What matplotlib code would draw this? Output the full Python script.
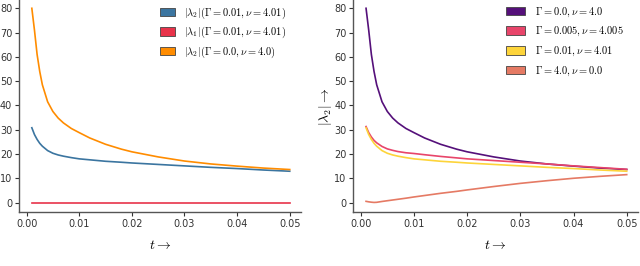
import matplotlib
matplotlib.use('Agg')
import matplotlib.pyplot as plt
from matplotlib.patches import Patch

plt.rcParams['mathtext.fontset'] = 'cm'
plt.rcParams['font.family'] = ['DejaVu Sans']

# time grid shared by every curve
t = [0.001, 0.0015, 0.002, 0.0025, 0.003, 0.004, 0.005, 0.006, 0.007, 0.0085,
     0.01, 0.012, 0.015, 0.018, 0.02, 0.025, 0.03, 0.035, 0.04, 0.045, 0.05]

# Gamma = 0.0, nu = 4.0
lam2_g0 = [80, 71, 61, 54, 48.5, 41.5, 37.5, 34.8, 32.8, 30.5,
           28.8, 26.6, 24.0, 22.0, 20.9, 18.8, 17.1, 15.9, 15.0, 14.2, 13.6]
# Gamma = 0.01, nu = 4.01
lam2_g001 = [30.8, 28.0, 26.0, 24.4, 23.2, 21.4, 20.3, 19.6, 19.1, 18.5,
             18.0, 17.6, 17.0, 16.6, 16.3, 15.7, 15.1, 14.5, 14.0, 13.4, 12.9]
lam1_g001 = [0.0] * len(t)
# Gamma = 0.005, nu = 4.005
lam2_g0005 = [31.3, 28.8, 27.0, 25.6, 24.6, 23.1, 22.1, 21.5, 21.0, 20.5,
              20.2, 19.7, 19.0, 18.4, 18.0, 17.3, 16.6, 15.9, 15.1, 14.4, 13.7]
# Gamma = 4.0, nu = 0.0
lam2_g4 = [0.5, 0.3, 0.15, 0.05, 0.1, 0.45, 0.75, 1.05, 1.35, 1.8,
           2.3, 2.9, 3.8, 4.6, 5.2, 6.6, 7.9, 9.0, 10.0, 10.8, 11.5]

left_labels = [r'$|\lambda_2|(\Gamma = 0.01, \nu = 4.01)$',
               r'$|\lambda_1|(\Gamma = 0.01, \nu = 4.01)$',
               r'$|\lambda_2|(\Gamma = 0.0, \nu = 4.0)$']
left_colors = ['#3b75a0', '#e8334a', '#ff8c00']

right_labels = [r'$\Gamma = 0.0, \nu = 4.0$',
                r'$\Gamma = 0.005, \nu = 4.005$',
                r'$\Gamma = 0.01, \nu = 4.01$',
                r'$\Gamma = 4.0, \nu = 0.0$']
right_colors = ['#55107a', '#e8456a', '#fdd43a', '#e57a64']

fig = plt.figure(figsize=(6.4, 2.66), dpi=100)
ax1 = fig.add_axes([0.03, 0.202, 0.44, 0.797])
ax2 = fig.add_axes([0.552, 0.202, 0.4447, 0.797])

for series, c in zip([lam2_g001, lam1_g001, lam2_g0], left_colors):
    ax1.plot(t, series, color=c, lw=1.2)
for series, c in zip([lam2_g0, lam2_g0005, lam2_g001, lam2_g4], right_colors):
    ax2.plot(t, series, color=c, lw=1.2)

for ax in (ax1, ax2):
    ax.set_xlim(-0.0014, 0.0521)
    ax.set_ylim(-4.0, 83.3)
    ax.set_xticks([0.0, 0.01, 0.02, 0.03, 0.04, 0.05])
    ax.set_xticklabels(['0.00', '0.01', '0.02', '0.03', '0.04', '0.05'])
    ax.set_yticks([0, 10, 20, 30, 40, 50, 60, 70, 80])
    ax.tick_params(labelsize=7, length=3, width=0.8, colors='#333333', pad=2)
    for s in ('top', 'right'):
        ax.spines[s].set_visible(False)
    for s in ('left', 'bottom'):
        ax.spines[s].set_color('#555555')
        ax.spines[s].set_linewidth(1.0)
    ax.set_xlabel(r'$t \rightarrow$', fontsize=10, labelpad=6)

ax2.set_ylabel(r'$|\lambda_2| \rightarrow$', fontsize=10, labelpad=0)

h1 = [Patch(facecolor=c, edgecolor='#444444', lw=0.6) for c in left_colors]
ax1.legend(h1, left_labels, loc='upper left', bbox_to_anchor=(0.48, 1.0),
           frameon=False, fontsize=7.5, handlelength=1.5, handleheight=0.9,
           labelspacing=0.4, handletextpad=0.8, borderaxespad=0.1)

h2 = [Patch(facecolor=c, edgecolor='#444444', lw=0.6) for c in right_colors]
ax2.legend(h2, right_labels, loc='upper left', bbox_to_anchor=(0.52, 1.0),
           frameon=False, fontsize=7.5, handlelength=1.8, handleheight=0.9,
           labelspacing=0.6, handletextpad=0.9, borderaxespad=0.1)

fig.savefig('out.png', dpi=100)
